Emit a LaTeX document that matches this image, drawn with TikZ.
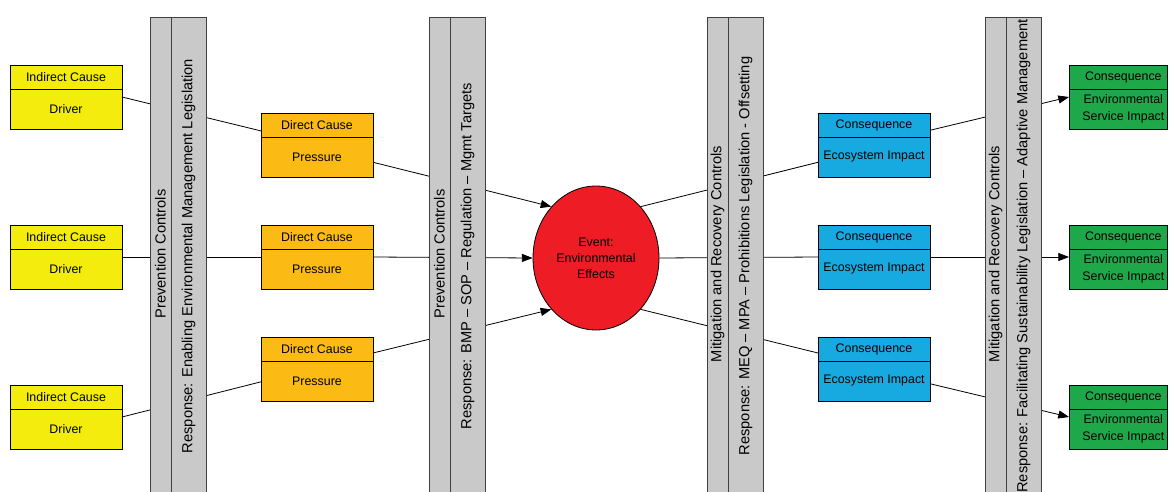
\documentclass[tikz,border=0pt]{standalone}
\usepackage{fontspec}
\setmainfont{Liberation Sans}
\usetikzlibrary{positioning,calc,arrows.meta,shapes.geometric}
\definecolor{drivercol}{HTML}{F4EC0C}
\definecolor{pressurecol}{HTML}{FBBA14}
\definecolor{impactcol}{HTML}{16AAE0}
\definecolor{servicecol}{HTML}{1FA84A}
\definecolor{eventcol}{HTML}{EE1C25}
\definecolor{barcol}{HTML}{C9C9C9}
\tikzset{
	boxhead/.style={draw, line width=0.6pt, outer sep=0pt, inner sep=0pt, minimum width=84pt, minimum height=18pt, align=center, font=\fontsize{9.3}{11}\selectfont},
	boxbody/.style={boxhead, minimum height=30pt},
	link/.style={line width=0.6pt},
	arrowlink/.style={link, -{Triangle[length=8pt,width=6pt]}},
	bar/.style={draw=black!75, line width=0.7pt, fill=barcol},
	bartext/.style={rotate=90, font=\fontsize{11}{13}\selectfont}
}
\begin{document}
\begin{tikzpicture}[x=0.75pt, y=-0.75pt]
	\useasboundingbox (0, 0) rectangle (1170, 492);
	\clip (0, 0) rectangle (1170, 492);
	% causes and consequences
	\foreach \i/\yt in {1/65, 2/225, 3/385} {
		\node[boxhead, fill=drivercol, anchor=north west] (ic\i) at (10, \yt) {Indirect Cause};
		\node[boxbody, fill=drivercol, below=0pt of ic\i] (dr\i) {Driver};
		\node[boxhead, fill=servicecol, minimum width=73.5pt, anchor=north west] (sc\i) at (1069, \yt) {\hspace{8pt}Consequence};
		\node[boxbody, fill=servicecol, minimum width=73.5pt, below=0pt of sc\i, font=\fontsize{9.3}{12.5}\selectfont] (si\i) {\hspace{8pt}Environmental\\\hspace{8pt}Service Impact};
	}
	\foreach \i/\yt in {1/113, 2/225, 3/337} {
		\node[boxhead, fill=pressurecol, anchor=north west] (dc\i) at (261, \yt) {Direct Cause};
		\node[boxbody, fill=pressurecol, below=0pt of dc\i] (pr\i) {Pressure};
		\node[boxhead, fill=impactcol, anchor=north west] (ec\i) at (818, \yt) {Consequence};
		\node[boxbody, fill=impactcol, below=0pt of ec\i] (ei\i) {Ecosystem Impact};
	}
	\node[ellipse, draw, line width=0.6pt, fill=eventcol, inner sep=0pt, minimum width=94.5pt, minimum height=108pt, align=center, font=\fontsize{9.3}{12}\selectfont] (ev) at (596, 258) {Event:\\Environmental\\Effects};
	% connectors
	\draw[link] ($(ic1.north east)!.5!(dr1.south east)$) -- ($(dc1.north west)!.28!(pr1.south west)$);
	\draw[link] ($(ic2.north east)!.5!(dr2.south east)$) -- ($(dc2.north west)!.5!(pr2.south west)$);
	\draw[link] ($(ic3.north east)!.5!(dr3.south east)$) -- ($(dc3.north west)!.7!(pr3.south west)$);
	\draw[arrowlink] ($(dc1.north east)!.77!(pr1.south east)$) -- (ev.131);
	\draw[arrowlink] ($(dc2.north east)!.5!(pr2.south east)$) -- (ev.west);
	\draw[arrowlink] ($(dc3.north east)!.25!(pr3.south east)$) -- (ev.229);
	\draw[link] (ev.49) -- ($(ec1.north west)!.77!(ei1.south west)$);
	\draw[link] (ev.east) -- ($(ec2.north west)!.5!(ei2.south west)$);
	\draw[link] (ev.311) -- ($(ec3.north west)!.25!(ei3.south west)$);
	\draw[arrowlink] ($(ec1.north east)!.27!(ei1.south east)$) -- ($(sc1.north west)!.5!(si1.south west)$);
	\draw[arrowlink] ($(ec2.north east)!.5!(ei2.south east)$) -- ($(sc2.north west)!.5!(si2.south west)$);
	\draw[arrowlink] ($(ec3.north east)!.73!(ei3.south east)$) -- ($(sc3.north west)!.5!(si3.south west)$);
	% control bars
	\foreach \x/\ctl/\resp in {150/Prevention Controls/Response: Enabling Environmental Management Legislation,
		429/Prevention Controls/Response: BMP – SOP – Regulation – Mgmt Targets,
		707/Mitigation and Recovery Controls/Response: MEQ – MPA – Prohibitions Legislation - Offsetting,
		985/Mitigation and Recovery Controls/Response: Facilitating Sustainability Legislation – Adaptive Management} {
		\draw[bar] (\x, 17) rectangle ++(56, 490);
		\draw[draw=black!75, line width=0.7pt] (\x+21, 17) -- (\x+21, 507);
		\node[bartext] (ctl\x) at (\x+10.5, 254) {\ctl};
		\node[bartext] (resp\x) at (\x+38.5, 256) {\resp};
	}
\end{tikzpicture}
\end{document}
